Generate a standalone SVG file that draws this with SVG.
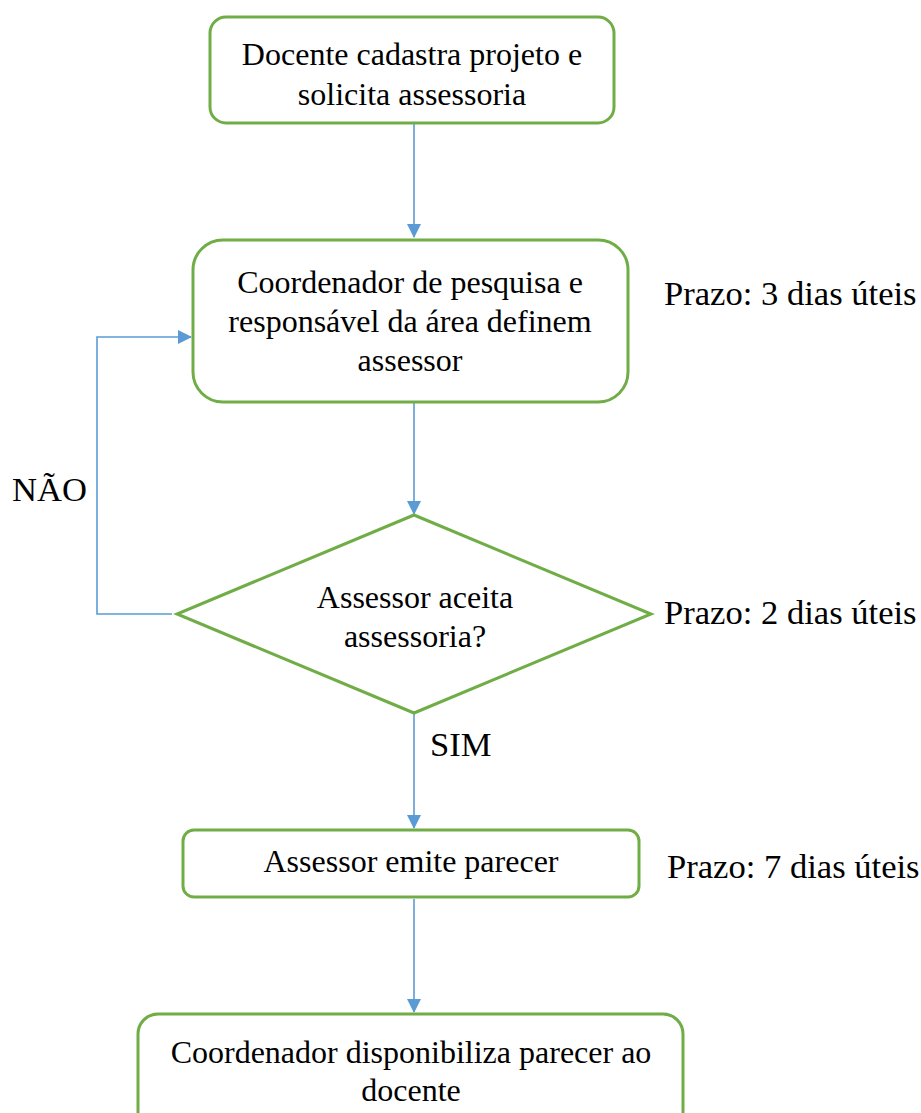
<svg xmlns="http://www.w3.org/2000/svg" width="921" height="1113" viewBox="0 0 921 1113">
<style>
.node{fill:#fff;stroke:#70AD47;stroke-width:3}
.t{font-family:'Liberation Serif','DejaVu Serif',serif;font-size:32px;fill:#000;text-anchor:middle}
.lbl{font-family:'Liberation Serif','DejaVu Serif',serif;font-size:34.6px;fill:#000}
.c{fill:none;stroke:#5B9BD5;stroke-width:1.6}
</style>
<defs>
<marker id="ah" markerWidth="14" markerHeight="14" refX="13" refY="7" orient="auto" markerUnits="userSpaceOnUse">
<path d="M0,0 L14,7 L0,14 Z" fill="#5B9BD5"/>
</marker>
</defs>
<rect width="921" height="1113" fill="#fff"/>
<g id="connectors">
<line class="c" x1="414" y1="124" x2="414" y2="237" marker-end="url(#ah)"/>
<line class="c" x1="414" y1="403" x2="414" y2="514" marker-end="url(#ah)"/>
<line class="c" x1="414" y1="714" x2="414" y2="828" marker-end="url(#ah)"/>
<line class="c" x1="414" y1="899" x2="414" y2="1012" marker-end="url(#ah)"/>
<polyline class="c" points="172,614 97,614 97,337 191,337" marker-end="url(#ah)"/>
</g>
<g id="n1">
<rect class="node" x="210" y="17" width="404" height="106" rx="16"/>
<text class="t" x="412" y="65">Docente cadastra projeto e</text>
<text class="t" x="412" y="105">solicita assessoria</text>
</g>
<g id="n2">
<rect class="node" x="193" y="240" width="435" height="162" rx="30"/>
<text class="t" x="410" y="293">Coordenador de pesquisa e</text>
<text class="t" x="410" y="332">responsável da área definem</text>
<text class="t" x="410" y="371">assessor</text>
</g>
<g id="n3">
<polygon class="node" points="414,515 651,614 414,713 177,614"/>
<text class="t" x="415" y="608">Assessor aceita</text>
<text class="t" x="415" y="647">assessoria?</text>
</g>
<g id="n4">
<rect class="node" x="183" y="830" width="456" height="67" rx="11"/>
<text class="t" x="411" y="872">Assessor emite parecer</text>
</g>
<g id="n5">
<rect class="node" x="138" y="1014" width="545" height="120" rx="20"/>
<text class="t" x="411" y="1063">Coordenador disponibiliza parecer ao</text>
<text class="t" x="411" y="1101">docente</text>
</g>
<g id="labels">
<text class="lbl" x="664" y="305">Prazo: 3 dias úteis</text>
<text class="lbl" x="664" y="624">Prazo: 2 dias úteis</text>
<text class="lbl" x="667" y="878">Prazo: 7 dias úteis</text>
<text class="lbl" x="12" y="501">NÃO</text>
<text class="lbl" x="430" y="756">SIM</text>
</g>
</svg>
